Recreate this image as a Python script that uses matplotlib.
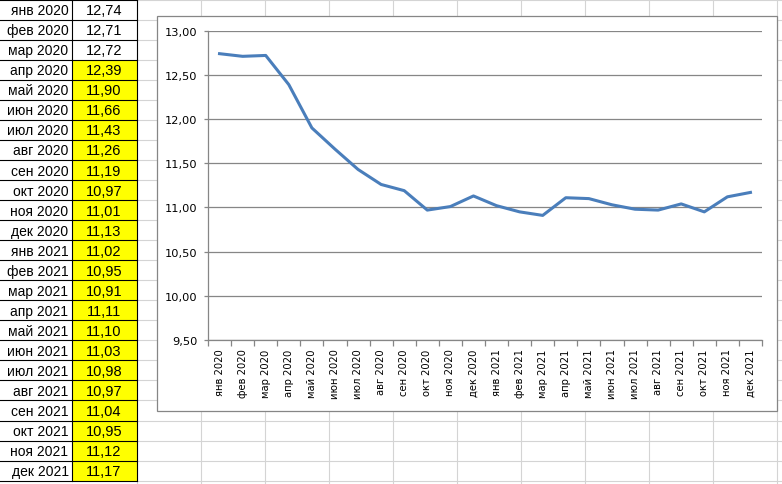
"""Excel screenshot: monthly table on the left, line chart on the right."""

import matplotlib
matplotlib.use("Agg")
import matplotlib.pyplot as plt
from matplotlib.patches import Rectangle

W, H = 782, 485

months = ["янв", "фев", "мар", "апр", "май", "июн", "июл", "авг", "сен", "окт", "ноя", "дек"]
years = [2020, 2021]
labels = [f"{m} {y}" for y in years for m in months]
values = [12.74, 12.71, 12.72, 12.39, 11.90, 11.66, 11.43, 11.26, 11.19, 10.97, 11.01, 11.13,
          11.02, 10.95, 10.91, 11.11, 11.10, 11.03, 10.98, 10.97, 11.04, 10.95, 11.12, 11.17]
highlight_from = 3  # cells from "апр 2020" are yellow
y_ticks = [9.5, 10.0, 10.5, 11.0, 11.5, 12.0, 12.5, 13.0]


def comma(v):
    return f"{v:.2f}".replace(".", ",")


fig = plt.figure(figsize=(W / 100, H / 100), dpi=100)
fig.patch.set_facecolor("white")

# sheet background in pixel coordinates
bg = fig.add_axes([0, 0, 1, 1])
bg.set_xlim(0, W)
bg.set_ylim(H, 0)
bg.axis("off")

row_h = 20.04
row_top = 0.7
col_x = [136.5 + 64 * i for i in range(11)]
for x in col_x:
    bg.plot([x, x], [0, H], color="#d4d4d4", lw=0.8)
for i in range(26):
    y = row_top + i * row_h
    bg.plot([136.5, W], [y, y], color="#d4d4d4", lw=0.8)

# table
c0, c1, c2 = 0, 71.5, 136.5
for i, (lab, v) in enumerate(zip(labels, values)):
    top = row_top + i * row_h
    fill = "#ffff00" if i >= highlight_from else "white"
    bg.add_patch(Rectangle((c1, top), c2 - c1, row_h, facecolor=fill, edgecolor="none"))
    bg.text(c1 - 3, top + row_h / 2 + 0.5, lab, ha="right", va="center",
            fontsize=10, family="Liberation Sans", color="black")
    bg.text((c1 + c2) / 2, top + row_h / 2 + 0.5, comma(v), ha="center", va="center",
            fontsize=10.5, family="Liberation Sans", color="black")
n = len(labels)
for i in range(n + 1):
    y = row_top + i * row_h
    bg.plot([c0, c2], [y, y], color="black", lw=0.8)
for x in (c1, c2):
    bg.plot([x, x], [row_top, row_top + n * row_h], color="black", lw=0.8)

# chart frame
bg.add_patch(Rectangle((157, 17), 777 - 157, 412 - 17, facecolor="white",
                       edgecolor="#868686", lw=0.9, zorder=3))

# plot area
px_l, px_r, px_t, px_b = 208, 762, 31.7, 341
ax = fig.add_axes([px_l / W, 1 - px_b / H, (px_r - px_l) / W, (px_b - px_t) / H])
ax.set_facecolor("none")
x = list(range(n))
ax.plot(x, values, color="#4a7ebb", lw=2.2, solid_joinstyle="round", zorder=3)

ax.set_xlim(-0.5, n - 0.5)
ax.set_ylim(9.5, 13.0)
ax.set_yticks(y_ticks)
ax.set_yticklabels([comma(t) for t in y_ticks])
ax.grid(axis="y", color="#868686", lw=0.9)
ax.set_axisbelow(True)

ax.set_xticks(x)
ax.set_xticklabels(labels, rotation=90, va="top", ha="center")
ax.set_xticks([i - 0.5 for i in range(n + 1)], minor=True)
ax.tick_params(axis="x", which="major", length=0, pad=6, labelsize=7.2, colors="black")
ax.tick_params(axis="x", which="minor", length=4, width=0.9, color="#868686", direction="out")
ax.tick_params(axis="y", which="major", length=2.9, width=0.9, color="#868686", pad=4.7,
               labelsize=8.2, labelcolor="black")
for lab in ax.get_xticklabels() + ax.get_yticklabels():
    lab.set_family("DejaVu Sans")

for side in ("top", "right"):
    ax.spines[side].set_visible(False)
for side in ("left", "bottom"):
    ax.spines[side].set_color("#868686")
    ax.spines[side].set_linewidth(0.9)

fig.savefig("out.png", dpi=100)
